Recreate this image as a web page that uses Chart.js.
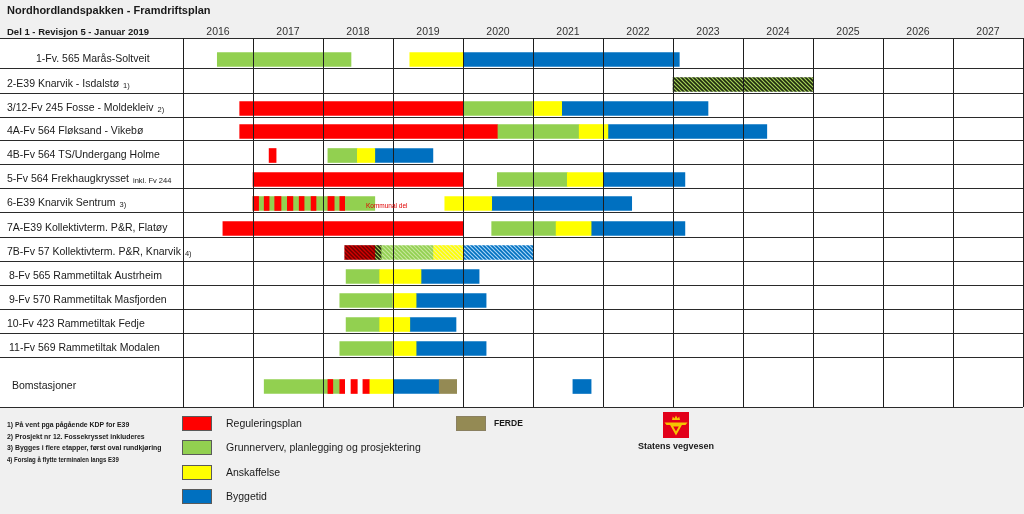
<!DOCTYPE html>
<html lang="no">
<head>
<meta charset="utf-8">
<title>Nordhordlandspakken - Framdriftsplan</title>
<script src="https://cdn.jsdelivr.net/npm/chart.js@4.4.1/dist/chart.umd.min.js"></script>
<style>
  body { margin: 0; background: #f0f0f0; font-family: "Liberation Sans", Arial, sans-serif; color: #1a1a1a; }
  #wrap { position: relative; width: 1024px; height: 514px; overflow: hidden; }
  #chart { position: absolute; left: 0; top: 0; }
  .abs { position: absolute; white-space: nowrap; }
  #title { left: 7px; top: 4px; font-size: 11px; font-weight: bold; }
  #subtitle { left: 7px; top: 26px; font-size: 9.5px; font-weight: bold; }
  #notes { left: 7px; top: 419px; font-weight: bold; font-size: 8px; line-height: 11.7px; transform: scaleX(0.86); transform-origin: 0 0; }
  #notes div:last-child { font-size: 7px; }
  .swatch { position: absolute; width: 30px; height: 15px; box-sizing: border-box; border: 1px solid #5a5a5a; }
  .legend-label { position: absolute; font-size: 10.5px; line-height: 15px; white-space: nowrap; }
  #ferde-label { font-size: 8.5px; font-weight: bold; }
  #logo { left: 663px; top: 412px; }
  #logo-text { left: 638px; top: 441px; font-size: 9px; font-weight: bold; }
</style>
</head>
<body>
<div id="wrap">
  <canvas id="chart" width="1024" height="514"></canvas>
  <div class="abs" id="title">Nordhordlandspakken - Framdriftsplan</div>
  <div class="abs" id="subtitle">Del 1 - Revisjon 5 - Januar 2019</div>
  <div class="abs" id="notes">
    <div>1) På vent pga pågående KDP for E39</div>
    <div>2) Prosjekt nr 12. Fossekrysset inkluderes</div>
    <div>3) Bygges i flere etapper, først oval rundkjøring</div>
    <div>4) Forslag å flytte terminalen langs E39</div>
  </div>
  <div id="legend"></div>
  <svg class="abs" id="logo" width="26" height="26" viewBox="0 0 26 26">
    <rect width="26" height="26" fill="#e2001a"/>
    <path d="M9 8 L9.8 4.5 L11.4 6.5 L13 3.5 L14.6 6.5 L16.2 4.5 L17 8 Z" fill="#f5c400"/>
    <path d="M1.5 10.5 H24.5 L22.5 13 H3.5 Z" fill="#f5c400"/>
    <path d="M8.5 13.5 H17.5 L13 21.5 Z" fill="none" stroke="#f5c400" stroke-width="2"/>
  </svg>
  <div class="abs" id="logo-text">Statens vegvesen</div>
</div>
<script>
// rader i framdriftsplanen
const rows = [
  '1-Fv. 565 Marås-Soltveit',
  '2-E39 Knarvik - Isdalstø',
  '3/12-Fv 245 Fosse - Moldekleiv',
  '4A-Fv 564 Fløksand - Vikebø',
  '4B-Fv 564 TS/Undergang Holme',
  '5-Fv 564 Frekhaugkrysset',
  '6-E39 Knarvik Sentrum',
  '7A-E39 Kollektivterm. P&R, Flatøy',
  '7B-Fv 57 Kollektivterm. P&R, Knarvik',
  '8-Fv 565 Rammetiltak Austrheim',
  '9-Fv 570 Rammetiltak Masfjorden',
  '10-Fv 423 Rammetiltak Fedje',
  '11-Fv 569 Rammetiltak Modalen',
  'Bomstasjoner'
];
const rowNotes = ['', '1)', '2)', '', '', 'inkl. Fv 244', '3)', '', '4)', '', '', '', '', ''];
const years = [2016, 2017, 2018, 2019, 2020, 2021, 2022, 2023, 2024, 2025, 2026, 2027];

// perioder: [rad, fra, til] (år som desimaltall)
const regulering = [
  [2, 2016.81, 2020.0], [3, 2016.81, 2020.49], [4, 2017.23, 2017.33], [5, 2017.0, 2020.0],
  [6, 2017.0, 2017.08], [6, 2017.16, 2017.23], [6, 2017.31, 2017.4], [6, 2017.49, 2017.57],
  [6, 2017.66, 2017.73], [6, 2017.83, 2017.9], [6, 2018.07, 2018.16], [6, 2018.24, 2018.31],
  [7, 2016.57, 2020.0],
  [13, 2018.07, 2018.14], [13, 2018.24, 2018.31], [13, 2018.4, 2018.49], [13, 2018.57, 2018.66]
];
const grunnerverv = [
  [0, 2016.49, 2018.4], [2, 2020.0, 2021.0], [3, 2020.49, 2021.66], [4, 2018.07, 2018.49],
  [5, 2020.49, 2021.49], [6, 2017.0, 2018.74], [7, 2020.41, 2021.33], [9, 2018.33, 2018.81],
  [10, 2018.24, 2019.0], [11, 2018.33, 2018.81], [12, 2018.24, 2019.0], [13, 2017.16, 2018.24]
];
const anskaffelse = [
  [0, 2019.24, 2020.0], [2, 2021.0, 2021.41], [3, 2021.66, 2022.07], [4, 2018.49, 2018.74],
  [5, 2021.49, 2022.0], [6, 2019.74, 2020.41], [7, 2021.33, 2021.83], [9, 2018.81, 2019.4],
  [10, 2019.0, 2019.33], [11, 2018.81, 2019.24], [12, 2019.0, 2019.33], [13, 2018.66, 2019.0]
];
const byggetid = [
  [0, 2020.0, 2023.09], [2, 2021.41, 2023.5], [3, 2022.07, 2024.34], [4, 2018.74, 2019.57],
  [5, 2022.0, 2023.17], [6, 2020.41, 2022.41], [7, 2021.83, 2023.17], [9, 2019.4, 2020.23],
  [10, 2019.33, 2020.33], [11, 2019.24, 2019.9], [12, 2019.33, 2020.33],
  [13, 2019.0, 2019.66], [13, 2021.57, 2021.83]
];
const ferde = [[13, 2019.66, 2019.91]];
// skraverte (foreløpige) perioder
const reguleringSkravert = [[8, 2018.31, 2018.74]];
const blandetSkravert = [[1, 2023.0, 2025.0], [8, 2018.74, 2018.83]];
const grunnervervSkravert = [[8, 2018.83, 2019.57]];
const anskaffelseSkravert = [[8, 2019.57, 2020.0]];
const byggetidSkravert = [[8, 2020.0, 2021.0]];
const notes = [{ row: 6, at: 2018.91, text: 'Kommunal del' }];

// layout: radhøyder (px) og innrykk for radtekst
const rowHeights = [30, 25, 24, 23, 24, 24, 24, 25, 24, 24, 24, 24, 24, 50];
const labelIndent = [36, 7, 7, 7, 7, 7, 7, 7, 7, 9, 9, 7, 9, 12];

const rowEdges = [0];
rowHeights.forEach(h => rowEdges.push(rowEdges[rowEdges.length - 1] + h));
const totalHeight = rowEdges[rowEdges.length - 1];
const rowAnchor = rowHeights.map((h, i) => rowEdges[i + 1] - (h > 40 ? h * 0.41 : 8.5));

function hatch(bg, fg, size, width) {
  const c = document.createElement('canvas');
  c.width = size; c.height = size;
  const g = c.getContext('2d');
  g.fillStyle = bg;
  g.fillRect(0, 0, size, size);
  g.strokeStyle = fg;
  g.lineWidth = width;
  g.beginPath();
  for (let k = -size; k <= size; k += size) {
    g.moveTo(k - 1, -1);
    g.lineTo(k + size + 1, size + 1);
  }
  g.stroke();
  return g.createPattern(c, 'repeat');
}

function segs(list) {
  return list.map(([row, from, to]) => ({ x: [from, to], y: rowAnchor[row] }));
}

const phases = {
  regulering: { label: 'Reguleringsplan', data: regulering, color: '#ff0000' },
  ferde: { label: 'FERDE', data: ferde, color: '#948a54' },
  anskaffelse: { label: 'Anskaffelse', data: anskaffelse, color: '#ffff00' },
  byggetid: { label: 'Byggetid', data: byggetid, color: '#0070c0' },
  grunnerverv: { label: 'Grunnerverv, planlegging og prosjektering', data: grunnerverv, color: '#92d050' },
  regSkr: { label: 'Regulering (skravert)', data: reguleringSkravert, color: hatch('#d40000', '#6e0000', 4, 1.5) },
  blandSkr: { label: 'Blandet (skravert)', data: blandetSkravert, color: hatch('#a6d35a', '#1f2a0e', 4, 1.6) },
  grnSkr: { label: 'Grunnerverv (skravert)', data: grunnervervSkravert, color: hatch('#92d050', '#c6e69c', 4, 1.2) },
  ansSkr: { label: 'Anskaffelse (skravert)', data: anskaffelseSkravert, color: hatch('#ffff00', '#f2f29a', 4, 1.2) },
  byggSkr: { label: 'Byggetid (skravert)', data: byggetidSkravert, color: hatch('#0070c0', '#a8d4f5', 4, 1.2) }
};
const legendOrder = ['regulering', 'grunnerverv', 'anskaffelse', 'byggetid'];

// første datasett tegnes øverst (striper over grønt)
const datasets = Object.values(phases).map(p => ({
  label: p.label,
  data: segs(p.data),
  backgroundColor: p.color
}));

// HTML-forklaring
const legendEl = document.getElementById('legend');
legendOrder.forEach((key, i) => {
  const p = phases[key];
  const top = 416 + i * 24.4;
  legendEl.insertAdjacentHTML('beforeend',
    `<div class="swatch" style="left:182px;top:${top}px;background:${p.color}"></div>` +
    `<div class="legend-label" style="left:226px;top:${top}px">${p.label}</div>`);
});
legendEl.insertAdjacentHTML('beforeend',
  `<div class="swatch" style="left:456px;top:416px;background:${phases.ferde.color};border-color:#8a8060"></div>` +
  `<div class="legend-label" id="ferde-label" style="left:494px;top:416px">${phases.ferde.label}</div>`);

const tableBackground = {
  id: 'tableBackground',
  beforeDraw(chart) {
    const { ctx, chartArea } = chart;
    ctx.save();
    ctx.fillStyle = '#ffffff';
    ctx.fillRect(0, chartArea.top, chartArea.right, chartArea.bottom - chartArea.top);
    ctx.restore();
  }
};

const rowLabels = {
  id: 'rowLabels',
  afterDraw(chart) {
    const { ctx } = chart;
    const x = chart.scales.x;
    const y = chart.scales.y;
    ctx.save();
    ctx.textBaseline = 'middle';
    ctx.fillStyle = '#1a1a1a';
    rows.forEach((name, i) => {
      const py = y.getPixelForValue(rowAnchor[i]);
      ctx.font = '10.5px "Liberation Sans", Arial, sans-serif';
      ctx.fillText(name, labelIndent[i], py);
      if (rowNotes[i]) {
        const w = ctx.measureText(name).width;
        ctx.font = '7.5px "Liberation Sans", Arial, sans-serif';
        ctx.fillText(rowNotes[i], labelIndent[i] + w + 4, py + 1);
      }
    });
    ctx.fillStyle = '#e00000';
    ctx.textAlign = 'center';
    ctx.font = '6.5px "Liberation Sans", Arial, sans-serif';
    notes.forEach(n => ctx.fillText(n.text, x.getPixelForValue(n.at), y.getPixelForValue(rowAnchor[n.row]) + 3));
    ctx.restore();
  }
};

new Chart(document.getElementById('chart'), {
  type: 'bar',
  data: { datasets },
  options: {
    indexAxis: 'y',
    responsive: false,
    animation: false,
    layout: { padding: { top: 0, right: 1, bottom: 107, left: 0 } },
    plugins: { legend: { display: false }, tooltip: { enabled: false } },
    datasets: { bar: { grouped: false, barThickness: 14, borderWidth: 0, borderSkipped: false } },
    scales: {
      x: {
        type: 'linear',
        position: 'top',
        min: 2016,
        max: 2028,
        afterBuildTicks: s => { s.ticks = years.map(v => ({ value: v + 0.5 })); },
        afterFit: s => { s.height = 38; },
        grid: { offset: true, color: '#1e1e1e', drawTicks: false, z: 1 },
        border: { display: false },
        ticks: {
          autoSkip: false,
          maxRotation: 0,
          padding: 0,
          color: '#333333',
          font: { family: '"Liberation Sans", Arial, sans-serif', size: 10.5 },
          callback: (v, i) => String(years[i])
        }
      },
      y: {
        type: 'linear',
        reverse: true,
        offset: false,
        min: 0,
        max: totalHeight,
        afterBuildTicks: s => { s.ticks = rowEdges.map(v => ({ value: v })); },
        afterFit: s => { s.width = 183; },
        grid: { offset: false, color: '#2a2a2a', drawTicks: true, tickLength: 183, z: 1 },
        border: { color: '#1e1e1e', z: 1 },
        ticks: { display: false }
      }
    }
  },
  plugins: [tableBackground, rowLabels]
});
</script>
</body>
</html>
